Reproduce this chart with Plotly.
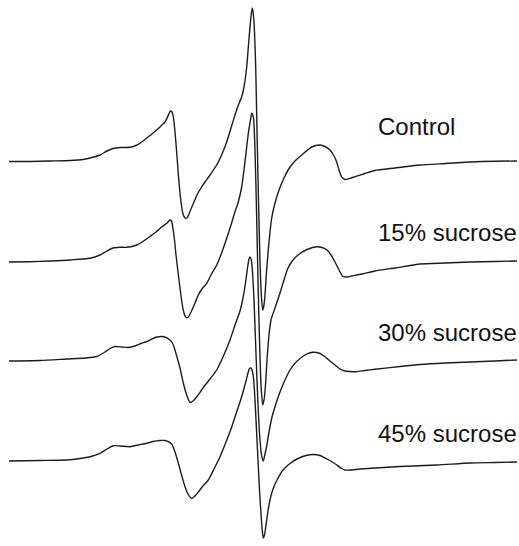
import plotly.graph_objects as go

# Magnetic-field axis positions (arbitrary units) and spectra.
control_x = [9,30,50,70,83,92,100,107,113,120,130,137,143,148,152,156,161,165,168,170.5,172,173.5,175,176.5,178,179.5,181,183,185,187,189,191,194,197,201,205,210,216.7,222,226.7,231,235,238,241.7,244,246.7,248.5,250,251.3,252.3,253.3,254.3,255.7,257,258.5,260,261.5,262.7,263.8,265,266.5,268.3,270,271.7,274,278.3,284,290,296,301.7,311.7,320,325,330,334,336.7,339,341.7,345,350,355,365,375,395,420,445,470,495,517]
control_y = [161.5,161.5,161,160.5,159.5,157.5,155,151,148.5,147.5,147.3,145,141,137,134,130.5,126,122,116,111,112,118,132,150,170,188,202,214,218,218,214,209,202,195,188,182,175,165,154,142,128,115,106,96.7,87,67,45,27,14,8,14,27,67,130,200,262,298,310,306,295,272,250,232,218,207,192,178,167,160,155,147,145,146.5,150,156,162,170,177,179.5,178.3,176.7,173.5,170.5,168,165,163.5,162,161.2,161]

s15_x = [9,30,50,70,90,100,107,113,120,127,136.7,143,150,156,161.7,166.7,170,171.5,172.7,174.5,176,178,180,182,184,186,188,190,192,195,198.3,202,206.7,211,216.7,222,226.7,231,235,238,241.7,244,246.7,248.5,250,251.7,252.8,253.7,255,256.5,258,259.5,261,262.7,264,265.5,267,269,271,275,280,288,293,298,307,317,322,327,331,335,339,343,347,352,362,375,395,420,445,470,495,517]
s15_y = [262,261.7,261,260,258.3,255,251,248,247.3,247.3,245,241.5,236.5,232,227,223.3,220,221,226.7,240,255,272,288,303,313,317.5,317.5,314,310,303,295,289,283.3,275,265,252,238.3,225,211.7,203,187,170,147,132,123,113.3,115,120,150,210,280,340,385,405,400,385,360,335,320,308,293,268,260,255,249.5,246.7,247.5,250,255,262,270,276.5,277,276,274,271,268,264,263,262,261.5,261]

s30_x = [9,40,66.7,85,96.7,105,110,115,122,128,135,141,146.7,152,157,161.7,166,170,173,176.7,180,183.3,187,190,193,196.7,203,210,216.7,223,230,235,240,243,245.5,247.5,249,250,251.3,252.5,254,255.5,257,258.5,260,261.5,263.3,265,266.7,269,272,275,280,285,290,295,305,313,320,325,330,335,340,345,350,355,365,375,400,420,445,470,495,517]
s30_y = [361,360.5,359,358,356.5,352,348.5,346.5,347,347.5,346,343.5,341.5,339,337,336.5,337.5,340,344,356,368,383,396,402.5,401,397,388,379,370,357,340,325,311,298,283,268,259,257,260,272,300,340,380,415,440,455,461,454,446,432,417,406.7,392,380,370,363.3,355,352.3,353.5,356.7,361,365,369,371,371.5,371.7,370.5,369.3,366.5,364.5,363,362,361,360]

s45_x = [9,40,66.7,80,90,100,107,113.3,120,130,138,146.7,153,160,165,168,171.7,175,178.3,181,185,188,191.7,195,198.3,203,208.3,214,220,226,231.7,236,240,243,246,248,249.5,251,252.3,253.5,255,256.5,258,259.5,261,262.2,263.3,264.5,266,268,270,273,277,283,290,298,306,313.3,320,327,334,341.7,345,350,360,375,400,437,470,495,517]
s45_y = [461,460.5,460,458.5,456.7,453.3,449,445.7,446,446.7,445,443.3,441.5,440.5,440.5,441.5,444,452,463,473,486.7,494,498.5,496,492,486,480,469,456.7,442,427,414,402,392,381,373,368.5,368,371,378,400,430,460,490,514,530,538,535,525,511,500,489,480,470,463.5,458.5,455.5,454.5,455.5,459,463,468.5,470,470,469,468,466.5,465,463,462.5,462]

labels = ["Control", "15% sucrose", "30% sucrose", "45% sucrose"]
label_y = [126.5, 232, 332, 433.5]

series = [(control_x, control_y), (s15_x, s15_y), (s30_x, s30_y), (s45_x, s45_y)]

fig = go.Figure()
for (xs, ys), name in zip(series, labels):
    fig.add_trace(go.Scatter(
        x=xs, y=[-v for v in ys], mode="lines", name=name,
        line=dict(color="#1c1c1c", width=1.4, shape="spline", smoothing=0.6),
        hoverinfo="skip", showlegend=False, cliponaxis=False))

for name, ly in zip(labels, label_y):
    fig.add_annotation(x=376, y=-ly, text=name, showarrow=False,
                       xanchor="left", yanchor="middle",
                       font=dict(family="Liberation Sans, Arial, sans-serif", size=24, color="#111111"))

fig.update_layout(
    width=519, height=546,
    margin=dict(l=0, r=0, t=0, b=0),
    paper_bgcolor="white", plot_bgcolor="white",
    xaxis=dict(range=[0, 519], visible=False, fixedrange=True),
    yaxis=dict(range=[-546, 0], visible=False, fixedrange=True),
)

fig.write_html("out.html", config={"displayModeBar": False},
               post_script="document.body.style.margin='0';document.body.style.overflow='hidden';")
